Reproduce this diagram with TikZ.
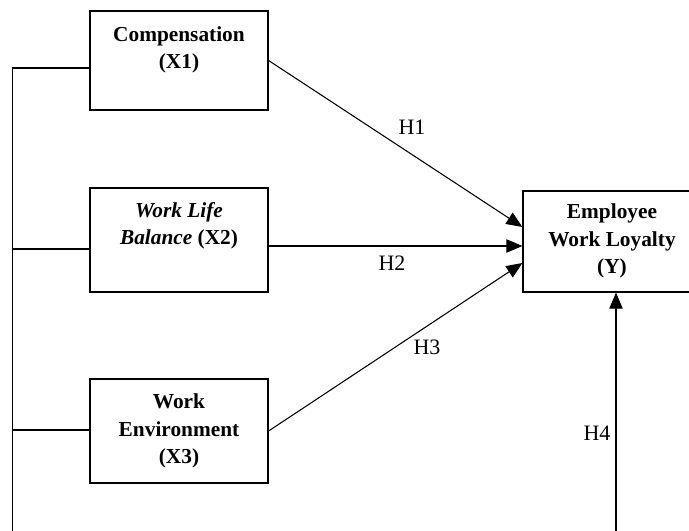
\documentclass[tikz,border=0pt]{standalone}
\usepackage{fontspec}
\setmainfont{Liberation Serif}
\usetikzlibrary{arrows.meta,calc}
\begin{document}
\begin{tikzpicture}[x=0.75pt,y=-0.75pt,
  box/.style={draw,line width=0.9pt,minimum width=178*0.75pt,minimum height=100*0.75pt,inner sep=0pt},
  boxtext/.style={align=center,font=\fontsize{16}{20.6}\selectfont\bfseries,inner sep=0pt},
  hlabel/.style={font=\fontsize{16.5}{19}\selectfont,inner sep=0pt},
  conn/.style={line width=0.8pt},
  arr/.style={line width=0.8pt,-{Triangle[length=12pt,width=10pt]}}]
\useasboundingbox (0,0) rectangle (689,531);
% boxes
\node[box,minimum height=99*0.75pt] (x1) at (179,60.5) {};
\node[box,minimum height=104*0.75pt] (x2) at (179,240) {};
\node[box,minimum height=104*0.75pt] (x3) at (179,431) {};
\node[box,minimum height=101*0.75pt] (y) at (612,241.5) {};
% texts
\node[boxtext] (x1t) at (179,50) {Compensation\\(X1)};
\node[boxtext] (x2t) at (179,226) {\textit{Work Life}\\\textit{Balance} (X2)};
\node[boxtext] (x3t) at (179,431) {Work\\Environment\\(X3)};
\node[boxtext] (yt) at (612,241) {Employee\\Work Loyalty\\(Y)};
% bus coordinates
\coordinate (b1) at (12.7,68);
\coordinate (b2) at (12.7,249);
\coordinate (b3) at (12.7,430);
\coordinate (bl) at (12.7,532);
\coordinate (br) at (616,532);
\draw[conn] (x1.west |- b1) -- (b1) -- (bl);
\draw[conn] (x2.west |- b2) -- (b2);
\draw[conn] (x3.west |- b3) -- (b3);
% arrows to Y
\coordinate (t1) at (523,227);
\coordinate (t2) at (523,246);
\coordinate (t3) at (523,263);
\draw[arr] (x1.east) -- (y.west |- t1);
\draw[arr] (x2.east |- t2) -- (y.west |- t2);
\draw[arr] (x3.east) -- (y.west |- t3);
\draw[arr] (br) -- (y.south -| br);
% labels
\node[hlabel] (h1) at (412,127) {H1};
\node[hlabel] (h2) at (392,263) {H2};
\node[hlabel] (h3) at (427,347) {H3};
\node[hlabel] (h4) at (597,433) {H4};
\end{tikzpicture}
\end{document}
